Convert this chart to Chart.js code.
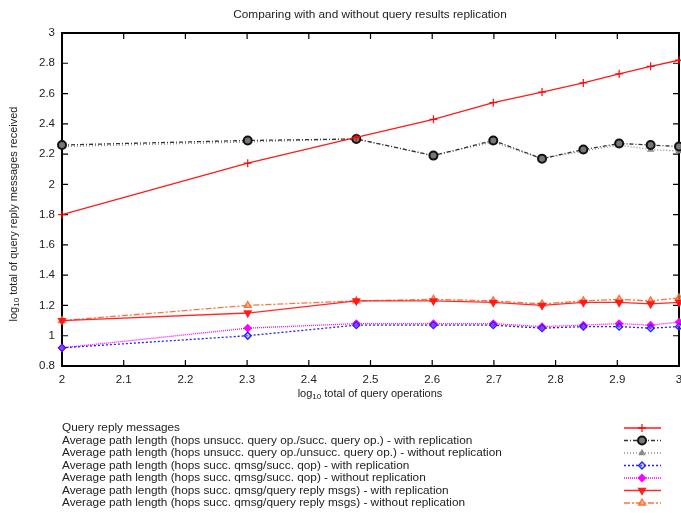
<!DOCTYPE html>
<html>
<head>
<meta charset="utf-8">
<script src="https://cdn.jsdelivr.net/npm/chart.js@4"></script>
<style>body{margin:0;background:#fff}</style>
</head>
<body>
<canvas id="myChart" width="681" height="513"></canvas>
<script>
// log10 of the number of query operations (100 .. 1000)
const xOps = [2, 2.301, 2.477, 2.602, 2.699, 2.778, 2.845, 2.903, 2.954, 3];

const queryReply    = [1.80, 2.14, 2.31, 2.43, 2.54, 2.61, 2.67, 2.73, 2.78, 2.82];
const unsuccWith    = [2.26, 2.29, 2.30, 2.19, 2.29, 2.17, 2.23, 2.27, 2.26, 2.25];
const unsuccWithout = [2.25, 2.28, 2.30, 2.19, 2.28, 2.17, 2.22, 2.26, 2.23, 2.22];
const succWith      = [0.92, 1.00, 1.07, 1.07, 1.07, 1.05, 1.06, 1.06, 1.05, 1.06];
const succWithout   = [0.92, 1.05, 1.08, 1.08, 1.08, 1.06, 1.07, 1.08, 1.07, 1.09];
const replyWith     = [1.10, 1.15, 1.23, 1.23, 1.22, 1.20, 1.22, 1.22, 1.21, 1.22];
const replyWithout  = [1.10, 1.20, 1.23, 1.24, 1.23, 1.21, 1.23, 1.24, 1.23, 1.25];

const seriesNames = [
  'Query reply messages',
  'Average path length (hops unsucc. query op./succ. query op.) - with replication',
  'Average path length (hops unsucc. query op./unsucc. query op.) - without replication',
  'Average path length (hops succ. qmsg/succ. qop) - with replication',
  'Average path length (hops succ. qmsg/succ. qop) - without replication',
  'Average path length (hops succ. qmsg/query reply msgs) - with replication',
  'Average path length (hops succ. qmsg/query reply msgs) - without replication'
];

const titleText = 'Comparing with and without query results replication';
const xTitle = ['log', '10', ' total of query operations'];
const yTitle = ['log', '10', ' total of query reply messages received'];

const FONT = '"Liberation Sans", Arial, sans-serif';
const TXT = '#222';

function pts(ys) {
  return ys.map((y, i) => ({x: xOps[i], y: y}));
}

function mk(label, ys, color, dash, style, radius, extra) {
  return Object.assign({
    label: label,
    data: pts(ys),
    borderColor: color,
    borderWidth: 1.3,
    borderDash: dash,
    pointStyle: style,
    pointRadius: radius,
    pointBorderColor: color,
    pointBackgroundColor: color,
    pointBorderWidth: 1.3,
    pointRotation: 0,
    fill: false,
    tension: 0,
    clip: false
  }, extra || {});
}

// draws sub-scripted text like log10, starting at x
function drawSub(ctx, parts, x, y) {
  ctx.font = '11px ' + FONT;
  ctx.fillText(parts[0], x, y);
  let w = ctx.measureText(parts[0]).width;
  ctx.font = '8px ' + FONT;
  ctx.fillText(parts[1], x + w, y + 3);
  w += ctx.measureText(parts[1]).width;
  ctx.font = '11px ' + FONT;
  ctx.fillText(parts[2], x + w, y);
}
function subWidth(ctx, parts) {
  ctx.font = '11px ' + FONT;
  let w = ctx.measureText(parts[0]).width + ctx.measureText(parts[2]).width;
  ctx.font = '8px ' + FONT;
  return w + ctx.measureText(parts[1]).width;
}

const framePlugin = {
  id: 'frame',
  beforeDatasetsDraw(chart) {
    const {ctx, chartArea: a, scales: {x, y}} = chart;
    ctx.save();
    ctx.strokeStyle = '#000';
    ctx.lineWidth = 1.2;
    ctx.beginPath();
    x.ticks.forEach(t => {
      const px = x.getPixelForValue(t.value);
      ctx.moveTo(px, a.bottom); ctx.lineTo(px, a.bottom - 6);
      ctx.moveTo(px, a.top); ctx.lineTo(px, a.top + 6);
    });
    y.ticks.forEach(t => {
      const py = y.getPixelForValue(t.value);
      ctx.moveTo(a.left, py); ctx.lineTo(a.left + 6, py);
      ctx.moveTo(a.right, py); ctx.lineTo(a.right - 6, py);
    });
    ctx.stroke();
    ctx.lineWidth = 2;
    ctx.strokeRect(a.left, a.top, a.right - a.left, a.bottom - a.top);
    ctx.restore();
  },
  afterDraw(chart) {
    const {ctx, chartArea: a} = chart;
    ctx.save();
    ctx.fillStyle = TXT;
    ctx.textBaseline = 'middle';
    ctx.font = '11.8px ' + FONT;
    ctx.textAlign = 'center';
    ctx.fillText(titleText, 370, 15);

    ctx.textAlign = 'left';
    let w = subWidth(ctx, xTitle);
    drawSub(ctx, xTitle, 370 - w / 2, 394);

    ctx.save();
    ctx.translate(14, 214);
    ctx.rotate(-Math.PI / 2);
    w = subWidth(ctx, yTitle);
    drawSub(ctx, yTitle, -w / 2, 0);
    ctx.restore();

    // legend: text on the left, line sample on the right
    chart.data.datasets.forEach((ds, i) => {
      const ly = 428 + i * 12.5;
      ctx.font = '11.8px ' + FONT;
      ctx.fillStyle = TXT;
      ctx.fillText(ds.label, 62, ly);
      ctx.strokeStyle = ds.borderColor;
      ctx.lineWidth = ds.borderWidth;
      ctx.setLineDash(ds.borderDash || []);
      ctx.beginPath();
      ctx.moveTo(624, ly); ctx.lineTo(661, ly);
      ctx.stroke();
      ctx.setLineDash([]);
      ctx.fillStyle = ds.pointBackgroundColor;
      ctx.strokeStyle = ds.pointBorderColor;
      ctx.lineWidth = ds.pointBorderWidth;
      Chart.helpers.drawPoint(ctx, {
        pointStyle: ds.pointStyle,
        radius: ds.pointRadius,
        rotation: ds.pointRotation,
        borderWidth: ds.pointBorderWidth
      }, 642, ly);
    });
    ctx.restore();
  }
};

document.addEventListener('DOMContentLoaded', function() {
  const ctx = document.getElementById('myChart').getContext('2d');
  new Chart(ctx, {
    type: 'line',
    data: {
      datasets: [
        mk(seriesNames[0], queryReply, 'rgba(255,0,0,0.9)', [], 'cross', 4),
        mk(seriesNames[1], unsuccWith, '#333333', [4, 2, 1, 2], 'circle', 4,
          {pointBorderColor: '#111', pointBackgroundColor: '#777', pointBorderWidth: 2}),
        mk(seriesNames[2], unsuccWithout, '#8a8a8a', [1, 2], 'triangle', 3),
        mk(seriesNames[3], succWith, '#2020ff', [2, 2], 'rectRot', 3.5,
          {pointBackgroundColor: 'rgba(120,120,255,0.4)'}),
        mk(seriesNames[4], succWithout, '#ff00ff', [1, 1], 'rectRot', 3.5),
        mk(seriesNames[5], replyWith, 'rgba(255,20,20,0.9)', [], 'triangle', 4,
          {pointRotation: 180}),
        mk(seriesNames[6], replyWithout, 'rgba(255,100,40,0.9)', [6, 2, 2, 2], 'triangle', 4,
          {pointBackgroundColor: 'rgba(255,140,90,0.6)'})
      ]
    },
    options: {
      responsive: false,
      animation: false,
      layout: {autoPadding: false, padding: {top: 33, right: 2, bottom: 0, left: 0}},
      plugins: {
        legend: {display: false},
        title: {display: false},
        tooltip: {enabled: false}
      },
      scales: {
        x: {
          type: 'linear',
          min: 2,
          max: 3,
          afterFit: s => { s.height = 147; s.paddingLeft = 0; s.paddingRight = 0; },
          grid: {display: false, drawTicks: false},
          border: {display: false},
          ticks: {
            stepSize: 0.1,
            padding: 7,
            color: TXT,
            font: {family: FONT, size: 11.5},
            maxRotation: 0,
            callback: v => String(+v.toFixed(1))
          }
        },
        y: {
          min: 0.8,
          max: 3,
          afterFit: s => { s.width = 62; s.paddingTop = 0; s.paddingBottom = 0; },
          grid: {display: false, drawTicks: false},
          border: {display: false},
          ticks: {
            stepSize: 0.2,
            padding: 7,
            color: TXT,
            font: {family: FONT, size: 11.5},
            callback: v => String(+v.toFixed(1))
          }
        }
      }
    },
    plugins: [framePlugin]
  });
});
</script>
</body>
</html>
